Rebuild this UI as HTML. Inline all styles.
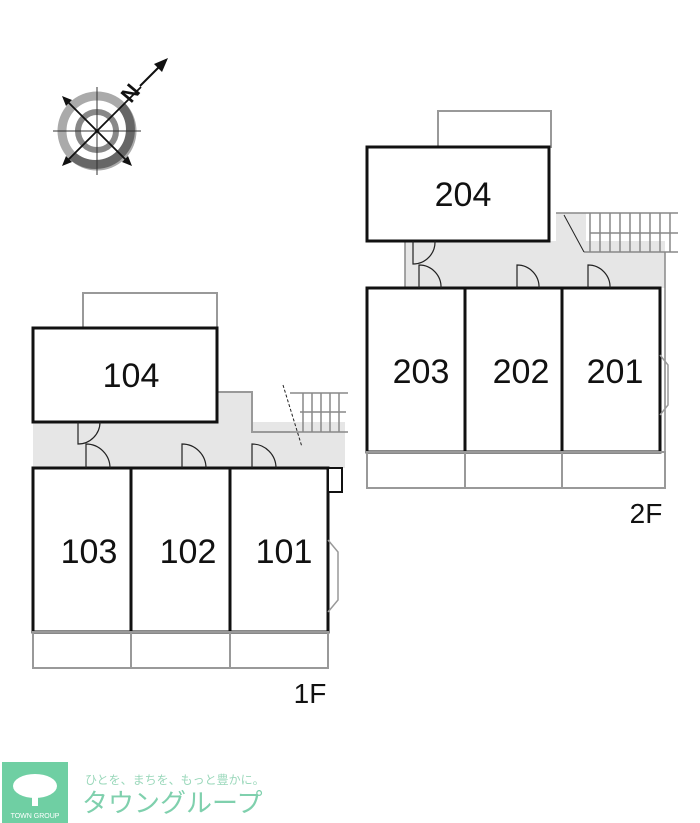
<!DOCTYPE html>
<html><head><meta charset="utf-8"><style>
html,body{margin:0;padding:0;background:#fff;width:700px;height:823px;overflow:hidden}
svg{display:block}
text{font-family:"Liberation Sans","Noto Sans CJK JP",sans-serif}
</style></head><body>
<svg width="700" height="823" viewBox="0 0 700 823" xmlns="http://www.w3.org/2000/svg">
<!-- compass -->
<g transform="translate(97,131)">
<circle r="35" fill="none" stroke="#aaa" stroke-width="9"/>
<path d="M24.7 -24.7 A35 35 0 0 1 -24.7 24.7" fill="none" stroke="#666" stroke-width="9"/>
<circle r="19" fill="none" stroke="#888" stroke-width="6"/>
<line x1="-44" y1="0" x2="44" y2="0" stroke="#333" stroke-width="1"/>
<line x1="0" y1="-44" x2="0" y2="44" stroke="#333" stroke-width="1"/>
<line x1="-33" y1="33" x2="44" y2="-44" stroke="#111" stroke-width="1.8"/>
<line x1="-33" y1="-33" x2="33" y2="33" stroke="#111" stroke-width="1.8"/>
<polygon points="-35,-35 -25,-31 -31,-25" fill="#111"/>
<polygon points="35,35 25,31 31,25" fill="#111"/>
<polygon points="-35,35 -31,25 -25,31" fill="#111"/>
</g>
<line x1="140" y1="86" x2="166" y2="60" stroke="#111" stroke-width="2"/>
<polygon points="168,58 154,64 162,72" fill="#111"/>
<text x="0" y="0" font-size="22" font-weight="bold" fill="#111" transform="translate(131,104) rotate(-50)">N</text>

<!-- 1F -->
<rect x="33" y="422" width="312" height="46" fill="#e6e6e6"/>
<rect x="217" y="392" width="35" height="30" fill="#e6e6e6"/>
<rect x="83" y="293" width="134" height="35" fill="none" stroke="#999" stroke-width="2"/>
<polyline points="217,392 252,392 252,432 290,432" fill="none" stroke="#999" stroke-width="2"/>
<g stroke="#888" stroke-width="1.5">
<line x1="290" y1="393" x2="348" y2="393"/><line x1="290" y1="432" x2="348" y2="432"/>
<line x1="300" y1="412" x2="346" y2="412"/>
<line x1="303" y1="393" x2="303" y2="432"/><line x1="312" y1="393" x2="312" y2="432"/><line x1="321" y1="393" x2="321" y2="432"/><line x1="330" y1="393" x2="330" y2="432"/><line x1="339" y1="393" x2="339" y2="432"/>
</g>
<line x1="283" y1="385" x2="302" y2="447" stroke="#222" stroke-width="1" stroke-dasharray="3 2"/>
<rect x="33" y="328" width="184" height="94" fill="#fff" stroke="#111" stroke-width="3"/>
<rect x="33" y="468" width="98" height="164" fill="#fff" stroke="#111" stroke-width="3"/>
<rect x="131" y="468" width="99" height="164" fill="#fff" stroke="#111" stroke-width="3"/>
<rect x="230" y="468" width="98" height="164" fill="#fff" stroke="#111" stroke-width="3"/>
<rect x="328" y="468" width="14" height="24" fill="#fff" stroke="#111" stroke-width="2"/>
<rect x="33" y="632" width="295" height="36" fill="none" stroke="#999" stroke-width="2"/>
<line x1="131" y1="632" x2="131" y2="668" stroke="#999" stroke-width="2"/>
<line x1="230" y1="632" x2="230" y2="668" stroke="#999" stroke-width="2"/>
<polyline points="328,540 338,552 338,600 328,612" fill="none" stroke="#999" stroke-width="1.5"/>
<g fill="none" stroke="#222" stroke-width="1.2">
<path d="M86 468 V444 A24 24 0 0 1 110 468"/>
<path d="M182 468 V444 A24 24 0 0 1 206 468"/>
<path d="M252 468 V444 A24 24 0 0 1 276 468"/>
<path d="M78 422 V444 A22 22 0 0 0 100 422"/>
</g>
<text x="131" y="387" font-size="34" text-anchor="middle" fill="#111">104</text>
<text x="89" y="563" font-size="34" text-anchor="middle" fill="#111">103</text>
<text x="188" y="563" font-size="34" text-anchor="middle" fill="#111">102</text>
<text x="284" y="563" font-size="34" text-anchor="middle" fill="#111">101</text>
<text x="310" y="703" font-size="28" text-anchor="middle" fill="#111">1F</text>

<!-- 2F -->
<rect x="405" y="241" width="260" height="47" fill="#e6e6e6"/>
<rect x="556" y="213" width="30" height="40" fill="#e6e6e6"/>
<rect x="438" y="111" width="113" height="36" fill="none" stroke="#999" stroke-width="2"/>
<g stroke="#888" stroke-width="1.5">
<line x1="556" y1="213" x2="678" y2="213"/><line x1="584" y1="252" x2="678" y2="252"/>
<line x1="590" y1="233" x2="678" y2="233"/>
<line x1="590" y1="213" x2="590" y2="252"/><line x1="600" y1="213" x2="600" y2="252"/><line x1="610" y1="213" x2="610" y2="252"/><line x1="620" y1="213" x2="620" y2="252"/><line x1="630" y1="213" x2="630" y2="252"/><line x1="640" y1="213" x2="640" y2="252"/><line x1="650" y1="213" x2="650" y2="252"/><line x1="660" y1="213" x2="660" y2="252"/><line x1="670" y1="213" x2="670" y2="252"/>
<line x1="665" y1="252" x2="665" y2="488"/>
<line x1="405" y1="241" x2="405" y2="288"/>
</g>
<line x1="564" y1="215" x2="584" y2="252" stroke="#222" stroke-width="1"/>
<rect x="367" y="147" width="182" height="94" fill="#fff" stroke="#111" stroke-width="3"/>
<rect x="367" y="288" width="98" height="164" fill="#fff" stroke="#111" stroke-width="3"/>
<rect x="465" y="288" width="97" height="164" fill="#fff" stroke="#111" stroke-width="3"/>
<rect x="562" y="288" width="98" height="164" fill="#fff" stroke="#111" stroke-width="3"/>
<rect x="367" y="452" width="298" height="36" fill="none" stroke="#999" stroke-width="2"/>
<line x1="465" y1="452" x2="465" y2="488" stroke="#999" stroke-width="2"/>
<line x1="562" y1="452" x2="562" y2="488" stroke="#999" stroke-width="2"/>
<polyline points="660,355 668,365 668,405 660,415" fill="none" stroke="#999" stroke-width="1.5"/>
<g fill="none" stroke="#222" stroke-width="1.2">
<path d="M419 288 V265 A22 22 0 0 1 441 288"/>
<path d="M517 288 V265 A22 22 0 0 1 539 288"/>
<path d="M588 288 V265 A22 22 0 0 1 610 288"/>
<path d="M413 241 V264 A22 22 0 0 0 435 241"/>
</g>
<text x="463" y="206" font-size="34" text-anchor="middle" fill="#111">204</text>
<text x="421" y="383" font-size="34" text-anchor="middle" fill="#111">203</text>
<text x="521" y="383" font-size="34" text-anchor="middle" fill="#111">202</text>
<text x="615" y="383" font-size="34" text-anchor="middle" fill="#111">201</text>
<text x="646" y="523" font-size="28" text-anchor="middle" fill="#111">2F</text>

<!-- logo -->
<rect x="2" y="762" width="66" height="61" fill="#6fcfa3"/>
<ellipse cx="35" cy="786" rx="22" ry="12" fill="#fff"/>
<rect x="32" y="790" width="6" height="16" fill="#fff"/>
<text x="35" y="818" font-size="7" text-anchor="middle" fill="#fff">TOWN GROUP</text>
<text x="85" y="784" font-size="12" fill="#9bd8bb">ひとを、まちを、もっと豊かに。</text>
<text x="82" y="812" font-size="26" fill="#7fd0ad">タウングループ</text>
</svg>
</body></html>
